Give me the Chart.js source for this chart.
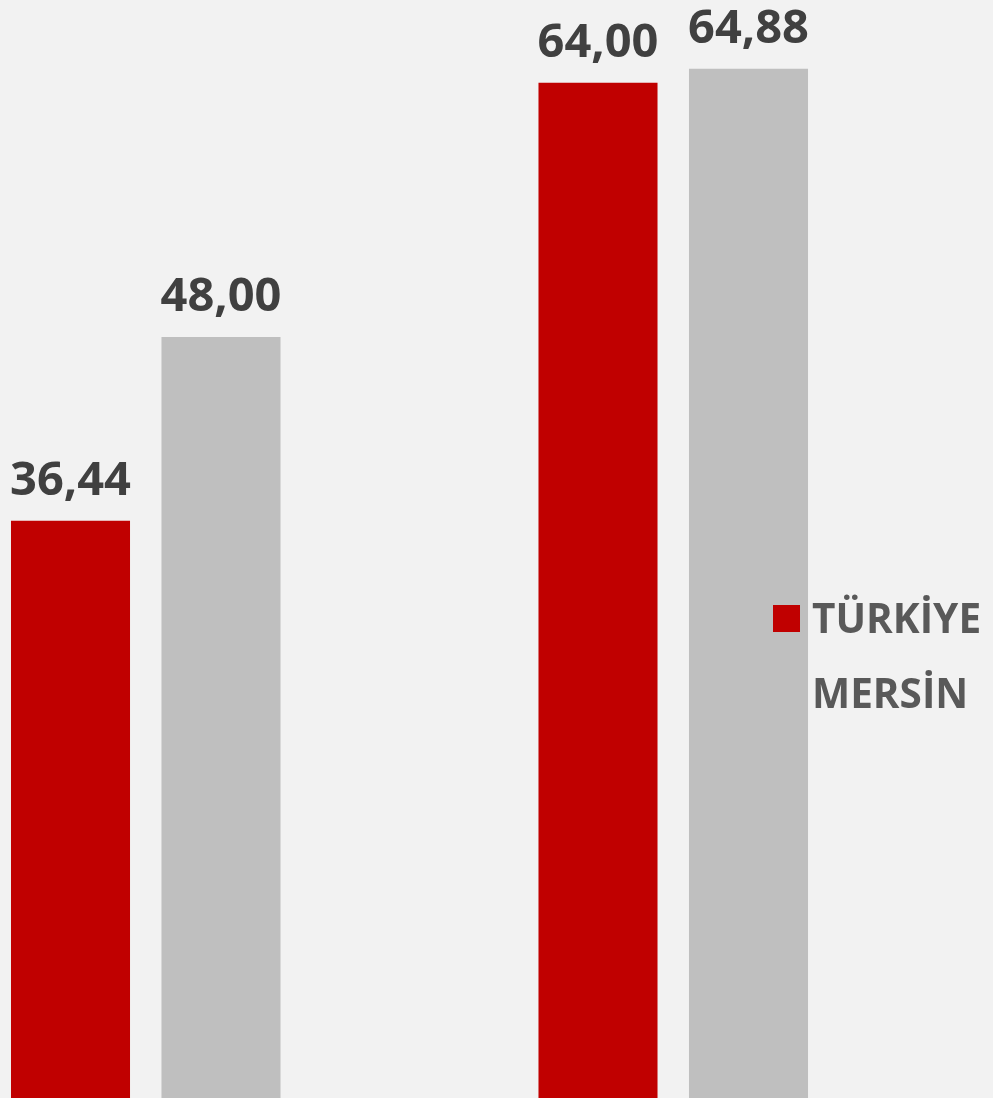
<!DOCTYPE html>
<html><head><meta charset="utf-8">
<script src="https://cdn.jsdelivr.net/npm/chart.js@4/dist/chart.umd.min.js"></script>
<style>
html,body{margin:0;padding:0;background:#f2f2f2;overflow:hidden;width:993px;height:1098px;}
#wrap{position:absolute;left:-118px;top:0;width:1111px;height:1100px;}
</style></head><body>
<div id="wrap"><canvas id="c" width="1111" height="1100"></canvas></div>
<script>
const categories = ["A", "B"];
const seriesNames = ["TÜRKİYE", "MERSİN"];
const turkiyeValues = [36.44, 64.00];
const mersinValues = [48.00, 64.88];
const colors = ["#c00000", "#bfbfbf"];

const fmt = v => v.toFixed(2).replace('.', ',');

const labelsPlugin = {
  id: 'valLabels',
  afterDatasetsDraw(chart) {
    const ctx = chart.ctx;
    ctx.save();
    ctx.font = 'bold 47px "Open Sans"';
    ctx.fillStyle = '#404040';
    ctx.textAlign = 'center';
    ctx.textBaseline = 'alphabetic';
    chart.data.datasets.forEach((ds, i) => {
      chart.getDatasetMeta(i).data.forEach((bar, j) => {
        ctx.fillText(fmt(ds.data[j]), bar.x, bar.y - 26);
      });
    });
    ctx.restore();
  }
};
const legendPlugin = {
  id: 'customLegend',
  afterDraw(chart) {
    const ctx = chart.ctx;
    ctx.save();
    ctx.font = 'bold 40.5px "Open Sans"';
    ctx.textAlign = 'left';
    ctx.textBaseline = 'alphabetic';
    chart.data.datasets.forEach((ds, i) => {
      const y = 633 + i * 75;
      ctx.fillStyle = ds.backgroundColor;
      ctx.fillRect(891, y - 28, 27, 27);
      ctx.fillStyle = '#595959';
      ctx.fillText(ds.label, 930, y);
    });
    ctx.restore();
  }
};

new Chart(document.getElementById('c'), {
  type: 'bar',
  data: {
    labels: categories,
    datasets: [
      {label: seriesNames[0], data: turkiyeValues, backgroundColor: colors[0]},
      {label: seriesNames[1], data: mersinValues, backgroundColor: colors[1]}
    ]
  },
  options: {
    responsive: false,
    animation: false,
    layout: {padding: {left: 0, top: 0, bottom: 0, right: 56}},
    categoryPercentage: 0.5706,
    barPercentage: 0.791,
    plugins: {legend: {display: false}, tooltip: {enabled: false}},
    scales: {
      x: {display: false},
      y: {display: false, min: 0, max: 69.2}
    }
  },
  plugins: [labelsPlugin, legendPlugin]
});
</script>
</body></html>
